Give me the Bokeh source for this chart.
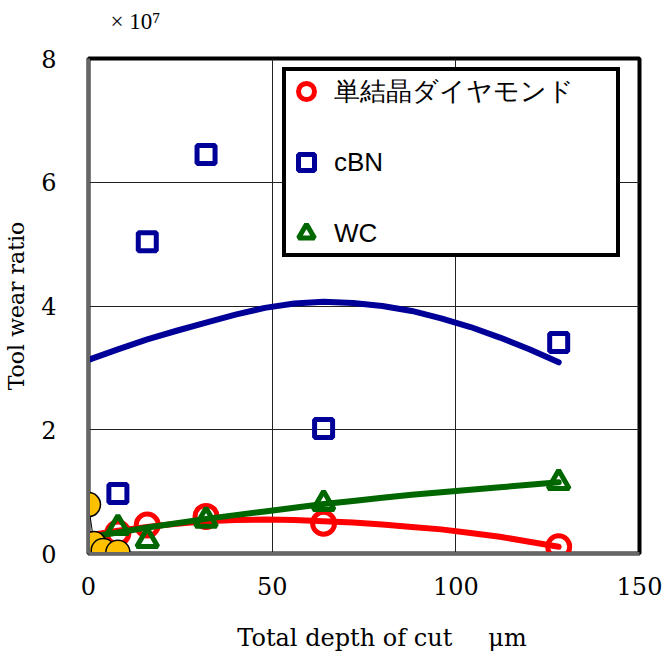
from bokeh.plotting import figure
from bokeh.models import Legend, LegendItem, Range1d, FixedTicker, Title
from bokeh.embed import file_html
from bokeh.resources import INLINE

# ---- data (tool wear ratio in units of 1e7) ----
depth = [8, 16, 32, 64, 128]
diamond = [0.33, 0.46, 0.60, 0.49, 0.11]
cbn = [0.97, 5.04, 6.45, 2.02, 3.41]
wc = [0.42, 0.21, 0.54, 0.81, 1.15]

ref_depth = [0, 1.5, 4, 8]
ref_ratio = [0.79, 0.16, 0.05, 0.02]

curve_depth = [0, 8, 16, 24, 32, 40, 48, 56, 64, 72, 80, 88, 96, 104, 112, 120, 128]
diamond_curve = [0.29, 0.37, 0.43, 0.48, 0.52, 0.54, 0.55, 0.54, 0.52,
                 0.50, 0.47, 0.43, 0.39, 0.33, 0.27, 0.19, 0.11]
cbn_curve = [3.13, 3.30, 3.46, 3.60, 3.73, 3.86, 3.97, 4.04, 4.07,
             4.05, 4.00, 3.92, 3.80, 3.66, 3.49, 3.30, 3.09]
wc_curve = [0.26, 0.34, 0.42, 0.49, 0.56, 0.62, 0.68, 0.74, 0.80,
            0.85, 0.90, 0.95, 0.99, 1.03, 1.07, 1.11, 1.15]

x_ticks = [0, 50, 100, 150]
y_ticks = [0, 2, 4, 6, 8]

labels = ["単結晶ダイヤモンド", "cBN", "WC"]
exponent_note = "× 10⁷"

RED = "#FF0000"
BLUE = "#000099"
GREEN = "#006600"
YELLOW = "#FFC000"

p = figure(width=662, height=655, title=None,
           x_range=Range1d(0, 150), y_range=Range1d(0, 8),
           output_backend="svg", toolbar_location=None,
           min_border_left=88, min_border_right=23,
           min_border_top=58, min_border_bottom=102)

p.background_fill_color = "white"
p.border_fill_color = "white"
p.outline_line_color = "black"
p.outline_line_width = 4

# spacer panel next to the frame, then the exponent note above it
spacer = Title(text=" ", text_font_size="1px", standoff=22)
note = Title(text=exponent_note, text_font="Liberation Serif",
             text_font_size="23px", text_font_style="normal",
             text_color="black", align="left", offset=22, standoff=0)
p.add_layout(spacer, "above")
p.add_layout(note, "above")

for ax in (p.xaxis, p.yaxis):
    ax.major_tick_out = 0
    ax.major_tick_in = 0
    ax.minor_tick_out = 0
    ax.minor_tick_in = 0
    ax.minor_tick_line_color = None
    ax.major_tick_line_color = None
    ax.axis_line_color = "#666666"
    ax.axis_line_width = 3
    ax.major_label_text_font = "DejaVu Serif"
    ax.major_label_text_font_size = "24px"
    ax.major_label_text_color = "black"
    ax.axis_label_text_font = "DejaVu Serif"
    ax.axis_label_text_font_style = "normal"
    ax.axis_label_text_color = "black"

p.xaxis.axis_label_text_font_size = "24px"
p.yaxis.axis_label_text_font_size = "22px"
p.xaxis.ticker = FixedTicker(ticks=x_ticks)
p.yaxis.ticker = FixedTicker(ticks=y_ticks)
p.xaxis.axis_label = "\u3000\u2002Total depth of cut\u3000\u2002μm"
p.yaxis.axis_label = "Tool wear ratio"
p.xaxis.major_label_standoff = 23
p.xaxis.axis_label_standoff = 26
p.yaxis.major_label_standoff = 32
p.yaxis.axis_label_standoff = 9
p.yaxis.major_label_orientation = "horizontal"

p.xgrid.ticker = FixedTicker(ticks=x_ticks)
p.ygrid.ticker = FixedTicker(ticks=y_ticks)
for g in (p.xgrid, p.ygrid):
    g.grid_line_color = "#222222"
    g.grid_line_width = 1

# series
r_d = p.scatter(depth, diamond, marker="circle", size=22, fill_color=None,
                line_color=RED, line_width=5)
p.line(curve_depth, diamond_curve, line_color=RED, line_width=6,
       line_cap="round", line_join="round")

r_c = p.scatter(depth, cbn, marker="square", size=18, fill_color=None,
                line_color=BLUE, line_width=5)
p.line(curve_depth, cbn_curve, line_color=BLUE, line_width=6,
       line_cap="round", line_join="round")

r_w = p.scatter(depth, wc, marker="triangle", size=21, fill_color=None,
                line_color=GREEN, line_width=5)
p.line(curve_depth, wc_curve, line_color=GREEN, line_width=6,
       line_cap="round", line_join="round")

p.line(ref_depth, ref_ratio, line_color="black", line_width=1)
p.scatter(ref_depth, ref_ratio, marker="circle", size=24, fill_color=YELLOW,
          line_color="black", line_width=1.5)

legend = Legend(items=[LegendItem(label=labels[0], renderers=[r_d]),
                       LegendItem(label=labels[1], renderers=[r_c]),
                       LegendItem(label=labels[2], renderers=[r_w])],
                location=(194, 296))
legend.border_line_color = "black"
legend.border_line_alpha = 1
legend.border_line_width = 4
legend.background_fill_color = "white"
legend.background_fill_alpha = 1
legend.glyph_width = 40
legend.glyph_height = 40
legend.label_height = 40
legend.spacing = 31
legend.padding = 0
legend.margin = 0
legend.label_standoff = 8
legend.label_width = 282
legend.label_text_font = "Liberation Sans"
legend.label_text_font_size = "26px"
legend.label_text_color = "black"
p.add_layout(legend)

open("out.html", "w").write(file_html(p, INLINE))
